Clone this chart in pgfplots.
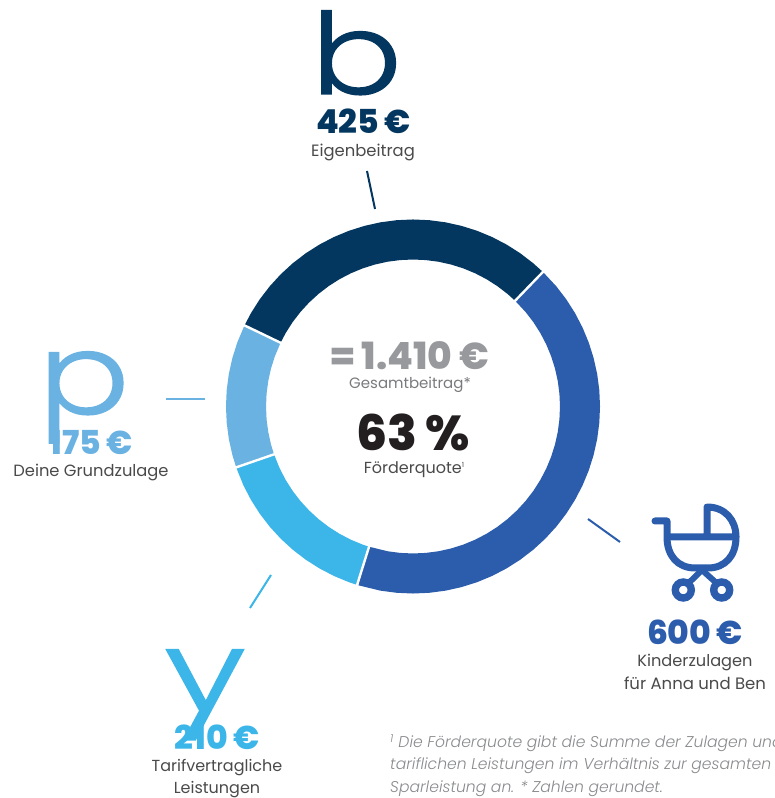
\documentclass[border=0pt]{standalone}
\usepackage{pgfplots}
\pgfplotsset{compat=1.18}
\usepackage{fontspec}
\setmainfont{Poppins}
\newfontfamily\heavy{Poppins ExtraBold}
\newfontfamily\thin[FakeBold=1.2]{Poppins Light}
\newfontfamily\itl{Poppins Light Italic}
\definecolor{cDark}{HTML}{03375F}
\definecolor{cBlue}{HTML}{2B5DAC}
\definecolor{cSky}{HTML}{3CB5E9}
\definecolor{cPale}{HTML}{6AB2E2}
\definecolor{cGray}{HTML}{97999C}
\definecolor{cBlack}{HTML}{231F20}
\definecolor{cText}{HTML}{4A4A4A}
\begin{document}
\begin{tikzpicture}[x=1pt,y=1pt]
\path[use as bounding box,clip] (0,0) rectangle (775,798);
\begin{axis}[at={(0,0)},anchor=south west,scale only axis,width=775pt,height=798pt,
 xmin=-413,xmax=362,ymin=-391.5,ymax=406.5,hide axis,clip=false]
\addplot[cDark,line width=40pt,data cs=polar] coordinates {(154.3,167)(150,167)(145,167)(140,167)(135,167)(130,167)(125,167)(120,167)(115,167)(110,167)(105,167)(100,167)(95,167)(90,167)(85,167)(80,167)(75,167)(70,167)(65,167)(60,167)(55,167)(50,167)(46,167)};
\addplot[cBlue,line width=40pt,data cs=polar] coordinates {(46,167)(40,167)(35,167)(30,167)(25,167)(20,167)(15,167)(10,167)(5,167)(0,167)(-5,167)(-10,167)(-15,167)(-20,167)(-25,167)(-30,167)(-35,167)(-40,167)(-45,167)(-50,167)(-55,167)(-60,167)(-65,167)(-70,167)(-75,167)(-80,167)(-85,167)(-90,167)(-95,167)(-100,167)(-107.4,167)};
\addplot[cSky,line width=40pt,data cs=polar] coordinates {(-107.4,167)(-110,167)(-115,167)(-120,167)(-125,167)(-130,167)(-135,167)(-140,167)(-145,167)(-150,167)(-155,167)(-161,167)};
\addplot[cPale,line width=40pt,data cs=polar] coordinates {(-161,167)(-165,167)(-170,167)(-175,167)(-180,167)(-185,167)(-190,167)(-195,167)(-200,167)(-205.7,167)};
\addplot[white,line width=2.4pt,data cs=polar] coordinates {(46,140)(46,195)};
\addplot[white,line width=2.4pt,data cs=polar] coordinates {(-107.4,140)(-107.4,195)};
\addplot[white,line width=2.4pt,data cs=polar] coordinates {(-161,140)(-161,195)};
\addplot[white,line width=2.4pt,data cs=polar] coordinates {(154.3,140)(154.3,195)};
\end{axis}
\begin{scope}[x=1pt,y=-1pt,yshift=798pt]
\draw[cDark,line width=2pt] (367,171) -- (375,209);
\draw[cBlue,line width=2pt] (588,519) -- (620,542);
\draw[cSky,line width=2pt] (271,575) -- (250,608);
\draw[cPale,line width=2pt] (166,399) -- (205,399);
\node[anchor=base,xscale=1.17,yscale=0.98,font=\thin\fontsize{115}{115}\selectfont,text=cDark] at (356.5,94) {b};
\node[anchor=base,xscale=1.17,yscale=0.98,font=\thin\fontsize{115}{115}\selectfont,text=cPale] at (84,414) {p};
\node[anchor=base,xscale=1.3,yscale=0.98,font=\thin\fontsize{115}{115}\selectfont,text=cSky] at (205,711) {y};
\node[anchor=base,font=\heavy\fontsize{33}{33}\selectfont,text=cDark] at (363.5,134) {425\,€};
\node[anchor=base,font=\fontsize{16.4}{16}\selectfont,text=cText] at (363,157) {Eigenbeitrag};
\node[anchor=base,font=\heavy\fontsize{33}{33}\selectfont,text=cPale] at (91,455) {175\,€};
\node[anchor=base,font=\fontsize{16.3}{16}\selectfont,text=cText] at (91,477) {Deine Grundzulage};
\node[anchor=base,font=\heavy\fontsize{33}{33}\selectfont,text=cSky] at (217,750) {210\,€};
\node[anchor=base,font=\fontsize{16}{16}\selectfont,text=cText] at (217,771) {Tarifvertragliche};
\node[anchor=base,font=\fontsize{16}{16}\selectfont,text=cText] at (217,793) {Leistungen};
\node[anchor=base,font=\heavy\fontsize{33}{33}\selectfont,text=cBlue] at (695,645) {600\,€};
\node[anchor=base,font=\fontsize{16.2}{16}\selectfont,text=cText] at (695,667) {Kinderzulagen};
\node[anchor=base,font=\fontsize{16.5}{16}\selectfont,text=cText] at (695,690) {für Anna und Ben};
\node[anchor=base,font=\heavy\fontsize{37.5}{37}\selectfont,text=cGray] at (410,369.5) {=\,1.410 €};
\node[anchor=base,font=\fontsize{15}{15}\selectfont,text=cGray!80!black] at (410,389) {Gesamtbeitrag*};
\node[anchor=base,font=\heavy\fontsize{49}{49}\selectfont,text=cBlack] at (413.5,450.5) {63\,\%};
\node[anchor=base,font=\fontsize{16}{16}\selectfont,text=cText] at (414,474) {Förderquote\raisebox{6pt}{\fontsize{7}{7}\selectfont 1}};
\node[anchor=base west,inner sep=0pt,font=\itl\fontsize{15.6}{15}\selectfont,text=cGray!90!black] at (390,748) {\textsuperscript{1} Die Förderquote gibt die Summe der Zulagen und};
\node[anchor=base west,inner sep=0pt,font=\itl\fontsize{15.6}{15}\selectfont,text=cGray!90!black] at (390,770) {tariflichen Leistungen im Verhältnis zur gesamten};
\node[anchor=base west,inner sep=0pt,font=\itl\fontsize{15.6}{15}\selectfont,text=cGray!90!black] at (390,792.5) {Sparleistung an. * Zahlen gerundet.};
% pram
\draw[cBlue,line width=7pt,line cap=round,line join=round] (655,521) -- (667,521) -- (667,537) .. controls (667,556) and (678,568) .. (695,568) -- (708,568) .. controls (725,568) and (736,556) .. (736,537);
\draw[cBlue,line width=7pt,line join=round] (667,537) -- (736,537) (707,537) -- (707,507) .. controls (725,507) and (736,520) .. (736,537);
\draw[cBlue,line width=6pt] (690,581.7) -- (702,570) -- (715,581.7);
\draw[cBlue,line width=7.4pt] (683.3,590) circle (8);
\draw[cBlue,line width=7.4pt] (721.7,590) circle (8);
\end{scope}
\end{tikzpicture}
\end{document}
